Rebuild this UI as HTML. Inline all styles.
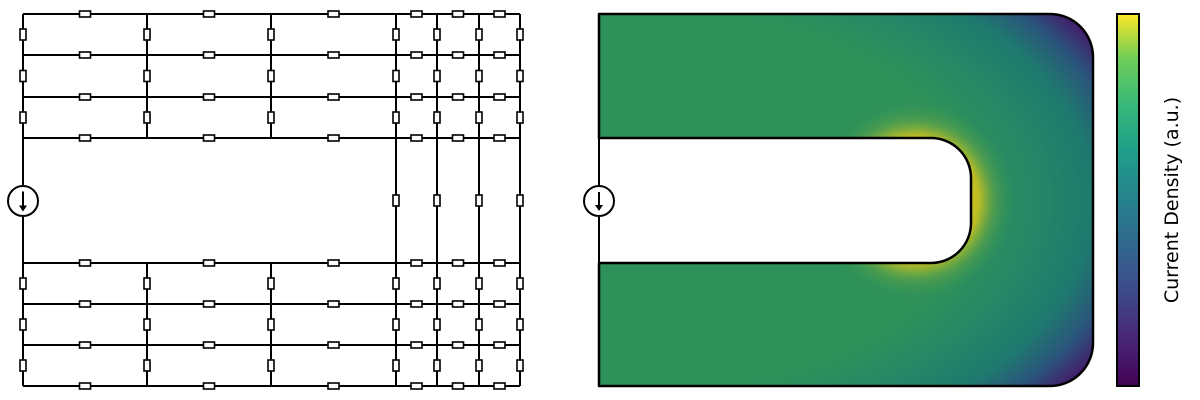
<!DOCTYPE html>
<html><head><meta charset="utf-8"><style>
html,body{margin:0;padding:0;background:#fff;width:1200px;height:400px;overflow:hidden}
svg{display:block}
</style></head><body>
<svg id="fig" width="1200" height="400" viewBox="0 0 1200 400">
<defs>
<radialGradient id="base" gradientUnits="userSpaceOnUse" cx="650" cy="200" r="520" gradientTransform="translate(650 200) scale(1 0.6) translate(-650 -200)">
<stop offset="0" stop-color="#2e915a"/>
<stop offset="0.62" stop-color="#2e915a"/>
<stop offset="0.75" stop-color="#248667"/>
<stop offset="0.85" stop-color="#1e7a6e"/>
<stop offset="0.93" stop-color="#2b547c"/>
<stop offset="1" stop-color="#44196a"/>
</radialGradient>
<radialGradient id="glow" gradientUnits="userSpaceOnUse" cx="915" cy="200" r="100">
<stop offset="0.5" stop-color="#d6c41c" stop-opacity="1"/>
<stop offset="0.64" stop-color="#cbc21f" stop-opacity="0.9"/>
<stop offset="0.8" stop-color="#7aae3c" stop-opacity="0.4"/>
<stop offset="1" stop-color="#3a9a50" stop-opacity="0"/>
</radialGradient>
<linearGradient id="viridis" x1="0" y1="1" x2="0" y2="0">
<stop offset="0" stop-color="#440154"/>
<stop offset="0.13" stop-color="#482878"/>
<stop offset="0.25" stop-color="#3e4989"/>
<stop offset="0.38" stop-color="#31688e"/>
<stop offset="0.5" stop-color="#26828e"/>
<stop offset="0.63" stop-color="#1f9e89"/>
<stop offset="0.75" stop-color="#35b779"/>
<stop offset="0.88" stop-color="#6ece58"/>
<stop offset="1" stop-color="#fde725"/>
</linearGradient>
<clipPath id="shapeClip"><path d="M599,14 H1050 A43,43 0 0 1 1093,57 V343 A43,43 0 0 1 1050,386 H599 V263 H931 A40,40 0 0 0 971,223 V178 A40,40 0 0 0 931,138 H599 Z"/></clipPath>
</defs>
<g id="circuit"></g>
<g>
<g clip-path="url(#shapeClip)">
<rect x="599" y="14" width="494" height="372" fill="url(#base)"/>
<rect x="800" y="80" width="260" height="240" fill="url(#glow)"/>
</g>
<path d="M599,14 H1050 A43,43 0 0 1 1093,57 V343 A43,43 0 0 1 1050,386 H599 V263 H931 A40,40 0 0 0 971,223 V178 A40,40 0 0 0 931,138 H599 Z" fill="none" stroke="#000" stroke-width="2.5" stroke-linejoin="round"/>
<line x1="599" y1="138" x2="599" y2="263" stroke="#000" stroke-width="2"/>
<g>
<circle cx="599" cy="201" r="15" fill="#fff" stroke="#000" stroke-width="2"/>
<line x1="599" y1="192" x2="599" y2="209" stroke="#000" stroke-width="2"/>
<path d="M595,205 L599,211 L603,205 Z" fill="#000"/>
</g>
</g>
<rect x="1117" y="14" width="22" height="372" fill="url(#viridis)" stroke="#000" stroke-width="2"/>
<text x="1178" y="200" transform="rotate(-90 1178 200)" text-anchor="middle" font-family="'DejaVu Sans','Liberation Sans',sans-serif" font-size="19" fill="#000">Current Density (a.u.)</text>
</svg>
<script>
const rowsTop = [14, 55, 97, 138];
const rowsBot = [263, 304, 345, 386];
const cols = [23, 147, 271, 396, 437, 479, 520];
const midCols = [396, 437, 479, 520];
const NS = 'http://www.w3.org/2000/svg';
const g = document.getElementById('circuit');
function mk(tag, attrs){const e=document.createElementNS(NS,tag);for(const k in attrs)e.setAttribute(k,attrs[k]);g.appendChild(e);return e;}
function wire(x1,y1,x2,y2){const l=mk('line',{x1:x1,y1:y1,x2:x2,y2:y2,stroke:'#000','stroke-width':2});

}
function resH(x,y){const r=mk('rect',{x:x-5.5,y:y-3,width:11,height:6,fill:'#fff',stroke:'#000','stroke-width':1.6});

}
function resV(x,y){const r=mk('rect',{x:x-3,y:y-5.5,width:6,height:11,fill:'#fff',stroke:'#000','stroke-width':1.6});

}
const L = cols[0], R = cols[cols.length-1];
[rowsTop, rowsBot].forEach(rows=>{
  rows.forEach(y=>wire(L,y,R,y));
  cols.forEach(x=>wire(x,rows[0],x,rows[rows.length-1]));
});
wire(L, rowsTop[rowsTop.length-1], L, rowsBot[0]);
midCols.forEach(x=>wire(x, rowsTop[rowsTop.length-1], x, rowsBot[0]));
[rowsTop, rowsBot].forEach(rows=>{
  rows.forEach(y=>{for(let i=0;i<cols.length-1;i++)resH((cols[i]+cols[i+1])/2,y);});
  cols.forEach(x=>{for(let j=0;j<rows.length-1;j++)resV(x,(rows[j]+rows[j+1])/2);});
});
const midY=(rowsTop[rowsTop.length-1]+rowsBot[0])/2;
midCols.forEach(x=>resV(x,midY));
const c=mk('circle',{cx:L,cy:midY+0.5,r:15,fill:'#fff',stroke:'#000','stroke-width':2});


mk('line',{x1:L,y1:midY-9,x2:L,y2:midY+9,stroke:'#000','stroke-width':2});
mk('path',{d:`M${L-4},${midY+5} L${L},${midY+11} L${L+4},${midY+5} Z`,fill:'#000'});
</script>
</body></html>
